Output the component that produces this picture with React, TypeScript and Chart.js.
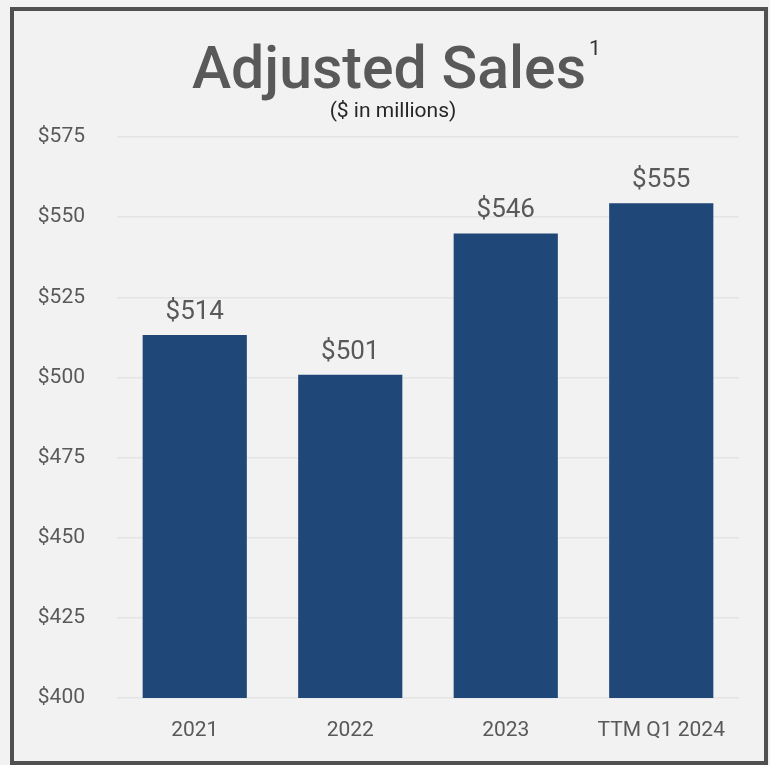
import React, { useEffect, useRef } from "react";
import { Chart, registerables } from "chart.js";

Chart.register(...registerables);

const categories = ["2021", "2022", "2023", "TTM Q1 2024"];
const salesValues = [513.2, 500.8, 544.9, 554.3];
const valueLabels = ["$514", "$501", "$546", "$555"];
const yTickValues = [400, 425, 450, 475, 500, 525, 550, 575];
const titleText = "Adjusted Sales";
const titleSup = "1";
const subtitleText = "($ in millions)";

const TEXT = "#595959";

const overlayPlugin = {
  id: "overlay",
  afterDatasetsDraw(chart: any) {
    const ctx = chart.ctx;
    ctx.save();
    // title
    ctx.fillStyle = TEXT;
    ctx.font = "500 59px Roboto";
    ctx.textAlign = "center";
    ctx.textBaseline = "alphabetic";
    ctx.fillText(titleText, 375, 77);
    const w = ctx.measureText(titleText).width;
    ctx.font = "400 21px Roboto";
    ctx.textAlign = "left";
    ctx.fillStyle = "#333333";
    ctx.fillText(titleSup, 375 + w / 2 + 3, 44);
    // subtitle
    ctx.fillStyle = "#262626";
    ctx.font = "400 21px Roboto";
    ctx.textAlign = "center";
    ctx.fillText(subtitleText, 379, 106);
    // value labels
    const meta = chart.getDatasetMeta(0);
    ctx.fillStyle = TEXT;
    ctx.font = "400 26px Roboto";
    meta.data.forEach((bar: any, i: number) => {
      ctx.fillText(valueLabels[i], bar.x, bar.y - 16);
    });
    ctx.restore();
  },
};

export default function App() {
  const ref = useRef<HTMLCanvasElement | null>(null);
  useEffect(() => {
    document.body.style.background = "#f2f2f2";
    const chart = new Chart(ref.current as HTMLCanvasElement, {
      type: "bar",
      data: {
        labels: categories,
        datasets: [
          {
            data: salesValues,
            backgroundColor: "#1f4778",
            barPercentage: 0.67,
            categoryPercentage: 1,
          },
        ],
      },
      options: {
        animation: false,
        responsive: false,
        maintainAspectRatio: false,
        layout: { padding: { left: 0, right: 25, top: 126, bottom: 0 } },
        plugins: {
          legend: { display: false },
          title: { display: false },
          tooltip: { enabled: false },
        },
        scales: {
          x: {
            grid: { display: false, drawTicks: false },
            border: { display: false },
            ticks: {
              color: TEXT,
              font: { family: "Roboto", size: 21 },
              padding: 20,
              maxRotation: 0,
              autoSkip: false,
            },
            afterFit(scale: any) {
              scale.height = 63;
              scale.paddingLeft = 0;
              scale.paddingRight = 0;
            },
          },
          y: {
            min: 400,
            max: 575,
            grid: { color: "#e4e4e4", lineWidth: 1.5, drawTicks: false },
            border: { display: false },
            afterBuildTicks(scale: any) {
              scale.ticks = yTickValues.map((v) => ({ value: v }));
            },
            ticks: {
              color: TEXT,
              font: { family: "Roboto", size: 21 },
              padding: 32,
              callback: (v: any) => "$" + v,
            },
            afterFit(scale: any) {
              scale.width = 103;
              scale.paddingTop = 0;
              scale.paddingBottom = 0;
            },
          },
        },
      },
      plugins: [overlayPlugin],
    });
    return () => chart.destroy();
  }, []);
  return (
    <div
      style={{
        position: "absolute",
        left: 10,
        top: 7,
        width: 758,
        height: 758,
        boxSizing: "border-box",
        border: "4px solid #505050",
        background: "#f2f2f2",
      }}
    >
      <canvas ref={ref} width={750} height={750} style={{ display: "block" }} />
    </div>
  );
}
